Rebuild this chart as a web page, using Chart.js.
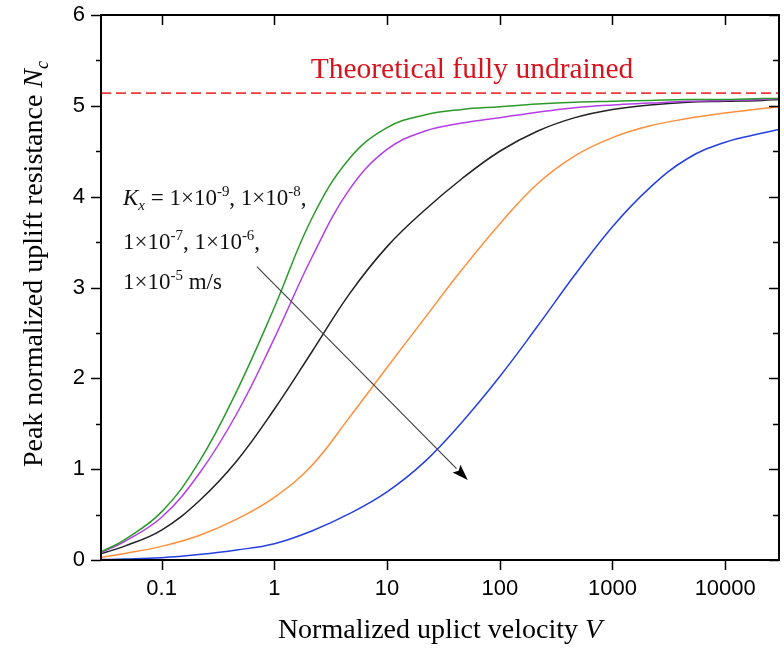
<!DOCTYPE html>
<html>
<head>
<meta charset="utf-8">
<script src="https://cdn.jsdelivr.net/npm/chart.js@4.4.1/dist/chart.umd.min.js"></script>
<style>
  html, body { margin: 0; padding: 0; background: #fff; }
  canvas { display: block; }
</style>
</head>
<body>
<canvas id="nc" width="784" height="648"></canvas>
<script>
// Normalized uplift velocity (log axis), about three points per decade
const velocity = [0.029, 0.0464, 0.1, 0.215, 0.464, 1, 2.15, 4.64, 10, 21.5, 46.4, 100, 215, 464, 1000, 2150, 4640, 10000, 21500, 30000];

// Peak normalized uplift resistance Nc, one array per permeability Kx
const nc1e9 = [0.09, 0.22, 0.53, 1.08, 1.86, 2.78, 3.76, 4.42, 4.76, 4.9, 4.96, 4.99, 5.02, 5.04, 5.05, 5.06, 5.07, 5.07, 5.08, 5.08];
const nc1e8 = [0.08, 0.2, 0.47, 0.95, 1.61, 2.44, 3.33, 4.08, 4.52, 4.72, 4.81, 4.87, 4.93, 4.98, 5.01, 5.03, 5.05, 5.06, 5.07, 5.08];
const nc1e7 = [0.07, 0.15, 0.33, 0.65, 1.09, 1.66, 2.29, 2.93, 3.45, 3.85, 4.2, 4.5, 4.72, 4.87, 4.96, 5.01, 5.04, 5.05, 5.06, 5.07];
const nc1e6 = [0.03, 0.07, 0.15, 0.27, 0.45, 0.69, 1.04, 1.57, 2.12, 2.66, 3.2, 3.7, 4.14, 4.45, 4.65, 4.78, 4.86, 4.92, 4.97, 4.99];
const nc1e5 = [0.005, 0.01, 0.025, 0.06, 0.11, 0.18, 0.32, 0.51, 0.75, 1.08, 1.52, 2.02, 2.57, 3.14, 3.67, 4.1, 4.42, 4.6, 4.7, 4.74];

// fully undrained reference value
const theoryX = [0.029, 30000];
const theoryNc = [5.14, 5.14];

const xTicks = [0.1, 1, 10, 100, 1000, 10000];
const yTicks = [0, 1, 2, 3, 4, 5, 6];
const yMinorTicks = [0.5, 1.5, 2.5, 3.5, 4.5, 5.5];

// arrow annotation, in data coordinates [V, Nc]
const arrowFrom = [0.7, 3.23];
const arrowTo = [52, 0.88];

const SERIF = "'Liberation Serif', 'Times New Roman', serif";
const SANS = "'Liberation Sans', Arial, sans-serif";

function pts(xs, ys) {
    return xs.map((x, i) => ({ x: x, y: ys[i] }));
}

function curve(data, color) {
    return {
        data: pts(velocity, data),
        borderColor: color,
        borderWidth: 1.5,
        pointRadius: 0,
        fill: false,
        tension: 0.4
    };
}

// text with italic / sub / superscript runs
function runsWidth(ctx, runs, size) {
    let w = 0;
    runs.forEach(r => {
        const s = (r.sub || r.sup) ? size * 0.65 : size;
        ctx.font = (r.it ? 'italic ' : '') + s + 'px ' + SERIF;
        w += ctx.measureText(r.t).width;
    });
    return w;
}

function drawRuns(ctx, x, y, runs, size) {
    let cx = x;
    ctx.textAlign = 'left';
    ctx.textBaseline = 'alphabetic';
    runs.forEach(r => {
        const s = (r.sub || r.sup) ? size * 0.65 : size;
        ctx.font = (r.it ? 'italic ' : '') + s + 'px ' + SERIF;
        const dy = r.sub ? size * 0.2 : (r.sup ? -size * 0.38 : 0);
        ctx.fillText(r.t, cx, y + dy);
        cx += ctx.measureText(r.t).width;
    });
}

const decorations = {
    id: 'decorations',
    afterDatasetsDraw(chart) {
        const ctx = chart.ctx;
        const xs = chart.scales.x, ys = chart.scales.y;

        // arrow
        const x0 = xs.getPixelForValue(arrowFrom[0]), y0 = ys.getPixelForValue(arrowFrom[1]);
        const x1 = xs.getPixelForValue(arrowTo[0]), y1 = ys.getPixelForValue(arrowTo[1]);
        const ang = Math.atan2(y1 - y0, x1 - x0);
        const head = 16, half = 5.5;
        const bx = x1 - head * Math.cos(ang), by = y1 - head * Math.sin(ang);
        ctx.save();
        ctx.strokeStyle = '#444';
        ctx.lineWidth = 1.2;
        ctx.beginPath();
        ctx.moveTo(x0, y0);
        ctx.lineTo(bx, by);
        ctx.stroke();
        ctx.fillStyle = '#000';
        ctx.beginPath();
        ctx.moveTo(x1, y1);
        ctx.lineTo(bx - half * Math.sin(ang), by + half * Math.cos(ang));
        ctx.lineTo(bx + 3 * Math.cos(ang), by + 3 * Math.sin(ang));
        ctx.lineTo(bx + half * Math.sin(ang), by - half * Math.cos(ang));
        ctx.closePath();
        ctx.fill();
        ctx.restore();
    },
    afterDraw(chart) {
        const ctx = chart.ctx;
        const xs = chart.scales.x, ys = chart.scales.y;
        const a = chart.chartArea;
        ctx.save();

        // frame and tick marks
        ctx.strokeStyle = '#000';
        ctx.lineWidth = 2;
        ctx.strokeRect(a.left, a.top, a.right - a.left, a.bottom - a.top);
        ctx.lineWidth = 1.5;
        ctx.beginPath();
        xTicks.forEach(v => {
            const px = Math.round(xs.getPixelForValue(v)) + 0.5;
            ctx.moveTo(px, a.bottom); ctx.lineTo(px, a.bottom + 10);
            ctx.moveTo(px, a.top); ctx.lineTo(px, a.top + 10);
        });
        yTicks.forEach(v => {
            const py = Math.round(ys.getPixelForValue(v)) + 0.5;
            ctx.moveTo(a.left - 10, py); ctx.lineTo(a.left, py);
            ctx.moveTo(a.right - 10, py); ctx.lineTo(a.right, py);
        });
        yMinorTicks.forEach(v => {
            const py = Math.round(ys.getPixelForValue(v)) + 0.5;
            ctx.moveTo(a.left - 5, py); ctx.lineTo(a.left, py);
            ctx.moveTo(a.right - 6, py); ctx.lineTo(a.right, py);
        });
        ctx.stroke();

        // red caption of the dashed line
        ctx.fillStyle = '#d7141e';
        ctx.font = '29.5px ' + SERIF;
        ctx.textAlign = 'center';
        ctx.textBaseline = 'alphabetic';
        ctx.fillText('Theoretical fully undrained', 472, 78);

        // Kx annotation
        ctx.fillStyle = '#111';
        const size = 23;
        drawRuns(ctx, 123, 205, [
            { t: 'K', it: true }, { t: 'x', it: true, sub: true }, { t: ' = 1×10' }, { t: '-9', sup: true },
            { t: ', 1×10' }, { t: '-8', sup: true }, { t: ',' }
        ], size);
        drawRuns(ctx, 123, 249, [
            { t: '1×10' }, { t: '-7', sup: true }, { t: ', 1×10' }, { t: '-6', sup: true }, { t: ',' }
        ], size);
        drawRuns(ctx, 123, 289, [
            { t: '1×10' }, { t: '-5', sup: true }, { t: ' m/s' }
        ], size);

        // axis titles
        ctx.fillStyle = '#000';
        const xt = [{ t: 'Normalized uplict velocity ' }, { t: 'V', it: true }];
        const xw = runsWidth(ctx, xt, 28);
        drawRuns(ctx, (a.left + a.right) / 2 - xw / 2, 638, xt, 28);

        const yt = [{ t: 'Peak normalized uplift resistance ' }, { t: 'N', it: true }, { t: 'c', it: true, sub: true }];
        const yw = runsWidth(ctx, yt, 28);
        ctx.translate(42, 264);
        ctx.rotate(-Math.PI / 2);
        drawRuns(ctx, -yw / 2, 0, yt, 28);
        ctx.restore();
    }
};

const ctx = document.getElementById('nc').getContext('2d');
new Chart(ctx, {
    type: 'line',
    data: {
        datasets: [
            curve(nc1e9, '#2a9a2a'),
            curve(nc1e8, '#b43ee8'),
            curve(nc1e7, '#222222'),
            curve(nc1e6, '#ff8f3c'),
            curve(nc1e5, '#2540e0'),
            {
                data: pts(theoryX, theoryNc),
                borderColor: '#ee3b3b',
                borderWidth: 1.8,
                borderDash: [10, 5],
                pointRadius: 0,
                fill: false
            }
        ]
    },
    options: {
        responsive: false,
        animation: false,
        layout: { padding: { left: 0, right: 5, top: 15, bottom: 0 } },
        plugins: {
            legend: { display: false },
            tooltip: { enabled: false }
        },
        scales: {
            x: {
                type: 'logarithmic',
                min: 0.029,
                max: 30000,
                afterBuildTicks: s => { s.ticks = xTicks.map(v => ({ value: v })); },
                afterFit: s => { s.height = 88; s.paddingLeft = 0; s.paddingRight = 0; },
                grid: { display: false, drawTicks: false },
                border: { display: false },
                ticks: {
                    autoSkip: false,
                    maxRotation: 0,
                    padding: 16,
                    color: '#000',
                    font: { family: SANS, size: 22 },
                    callback: v => String(v)
                }
            },
            y: {
                type: 'linear',
                min: 0,
                max: 6,
                afterBuildTicks: s => { s.ticks = yTicks.map(v => ({ value: v })); },
                afterFit: s => { s.width = 101; s.paddingTop = 0; s.paddingBottom = 0; },
                grid: { display: false, drawTicks: false },
                border: { display: false },
                ticks: {
                    padding: 16,
                    color: '#000',
                    font: { family: SANS, size: 22 },
                    callback: v => String(v)
                }
            }
        }
    },
    plugins: [decorations]
});
</script>
</body>
</html>
